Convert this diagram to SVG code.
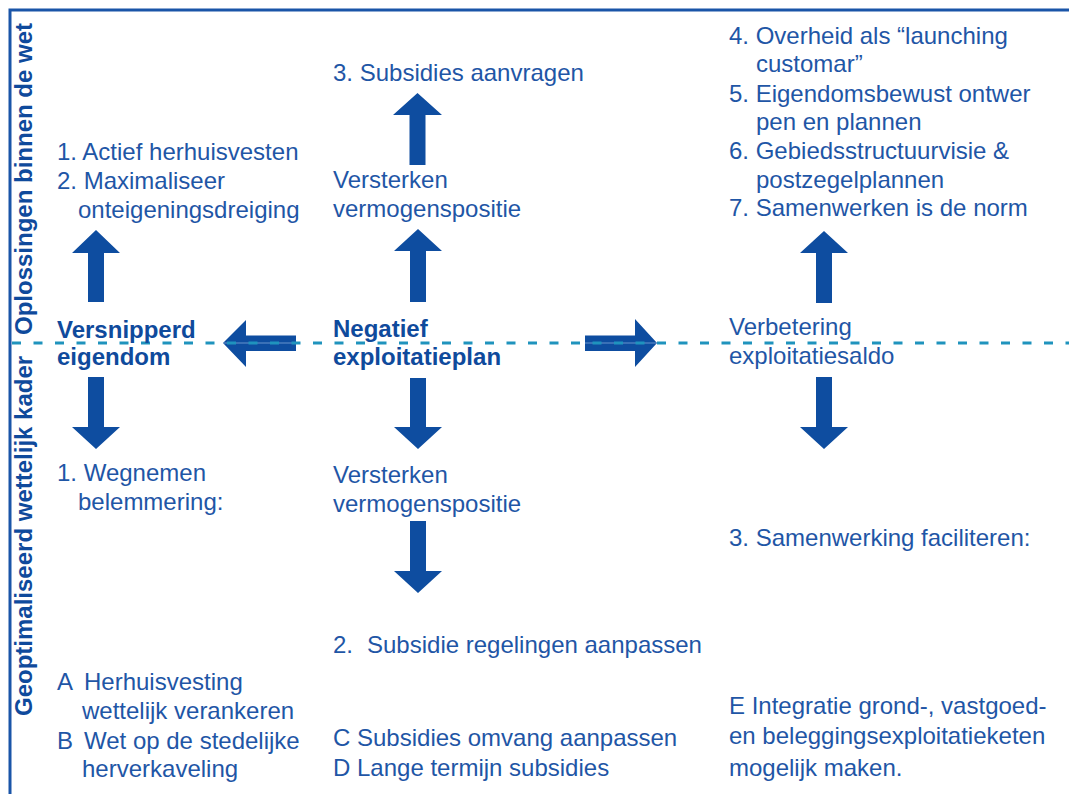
<svg xmlns="http://www.w3.org/2000/svg" width="1069" height="794" viewBox="0 0 1069 794">
<style>
.t{font-family:"Liberation Sans",Arial,sans-serif;font-size:24px;fill:#1f56a6}
.b{font-family:"Liberation Sans",Arial,sans-serif;font-size:24px;font-weight:bold;fill:#0f4a9c}
.v{font-family:"Liberation Sans",Arial,sans-serif;font-size:24px;font-weight:bold;fill:#0f4a9c}
.ar{fill:#0e4da0}
.frame{fill:none;stroke:#1a55a8;stroke-width:3}
.dash{fill:none;stroke:#1f93bd;stroke-width:3;stroke-dasharray:9 12.5}
</style>
<rect width="1069" height="794" fill="#ffffff"/>
<g id="frame">
<polyline class="frame" points="10,794 10,10 1069,10"/>
</g>
<g id="axis-labels">
<text class="v" transform="translate(32,335) rotate(-90)">Oplossingen binnen de wet</text>
<text class="v" transform="translate(32,716) rotate(-90)">Geoptimaliseerd wettelijk kader</text>
</g>
<g id="connectors">
<polygon class="ar" points="96,230 120,253 104,253 104,302 88,302 88,253 72,253"/>
<polygon class="ar" points="417.5,93 442,115 425.5,115 425.5,165 409.5,165 409.5,115 393,115"/>
<polygon class="ar" points="418,229 442,251 426,251 426,302 410,302 410,251 394,251"/>
<polygon class="ar" points="824,231 848,253 832,253 832,303 816,303 816,253 800,253"/>
<polygon class="ar" points="96,449 120,427 104,427 104,377 88,377 88,427 72,427"/>
<polygon class="ar" points="418,449 442,427 426,427 426,378 410,378 410,427 394,427"/>
<polygon class="ar" points="824,449 848,427 832,427 832,377 816,377 816,427 800,427"/>
<polygon class="ar" points="418,593 442,571 426,571 426,521 410,521 410,571 394,571"/>
<polygon class="ar" points="223,343 246,320 246,335.5 296,335.5 296,351 246,351 246,367"/>
<polygon class="ar" points="657,343 635,319 635,335.5 585,335.5 585,351 635,351 635,367"/>
<line x1="224" y1="343" x2="296" y2="343" stroke="#7fa6d9" stroke-width="0.8"/>
<line x1="585" y1="343" x2="656" y2="343" stroke="#7fa6d9" stroke-width="0.8"/>
</g>
<g id="divider">
<line class="dash" x1="12" y1="343" x2="1069" y2="343"/>
</g>
<g id="node-versnipperd">
<text class="b" x="57" y="338">Versnipperd</text>
<text class="b" x="57" y="365">eigendom</text>
</g>
<g id="node-negatief">
<text class="b" x="333" y="337">Negatief</text>
<text class="b" x="333" y="365">exploitatieplan</text>
</g>
<g id="node-verbetering">
<text class="t" x="729" y="335">Verbetering</text>
<text class="t" x="729" y="364">exploitatiesaldo</text>
</g>
<g id="node-left-top">
<text class="t" x="57" y="160">1. Actief herhuisvesten</text>
<text class="t" x="57" y="189">2. Maximaliseer</text>
<text class="t" x="78" y="218">onteigeningsdreiging</text>
</g>
<g id="node-mid-top">
<text class="t" x="333" y="81">3. Subsidies aanvragen</text>
</g>
<g id="node-mid-versterken-top">
<text class="t" x="333" y="188">Versterken</text>
<text class="t" x="333" y="217">vermogenspositie</text>
</g>
<g id="node-right-top">
<text class="t" x="729" y="44">4. Overheid als “launching</text>
<text class="t" x="756" y="72">customar”</text>
<text class="t" x="729" y="102">5. Eigendomsbewust ontwer</text>
<text class="t" x="756" y="130">pen en plannen</text>
<text class="t" x="729" y="159">6. Gebiedsstructuurvisie &amp;</text>
<text class="t" x="756" y="188">postzegelplannen</text>
<text class="t" x="729" y="216">7. Samenwerken is de norm</text>
</g>
<g id="node-left-bottom">
<text class="t" x="57" y="481">1. Wegnemen</text>
<text class="t" x="78" y="510">belemmering:</text>
</g>
<g id="node-mid-versterken-bottom">
<text class="t" x="333" y="483">Versterken</text>
<text class="t" x="333" y="512">vermogenspositie</text>
</g>
<g id="node-right-bottom">
<text class="t" x="729" y="546">3. Samenwerking faciliteren:</text>
</g>
<g id="node-mid-subsidie">
<text class="t" x="333" y="653">2.<tspan x="367">Subsidie regelingen aanpassen</tspan></text>
</g>
<g id="node-left-ab">
<text class="t" x="57" y="690">A<tspan x="84">Herhuisvesting</tspan></text>
<text class="t" x="82" y="719">wettelijk verankeren</text>
<text class="t" x="57" y="749">B<tspan x="84">Wet op de stedelijke</tspan></text>
<text class="t" x="82" y="777">herverkaveling</text>
</g>
<g id="node-mid-cd">
<text class="t" x="333" y="746">C Subsidies omvang aanpassen</text>
<text class="t" x="333" y="776">D Lange termijn subsidies</text>
</g>
<g id="node-right-e">
<text class="t" x="729" y="714">E Integratie grond-, vastgoed-</text>
<text class="t" x="729" y="744">en beleggingsexploitatieketen</text>
<text class="t" x="729" y="776">mogelijk maken.</text>
</g>
</svg>
